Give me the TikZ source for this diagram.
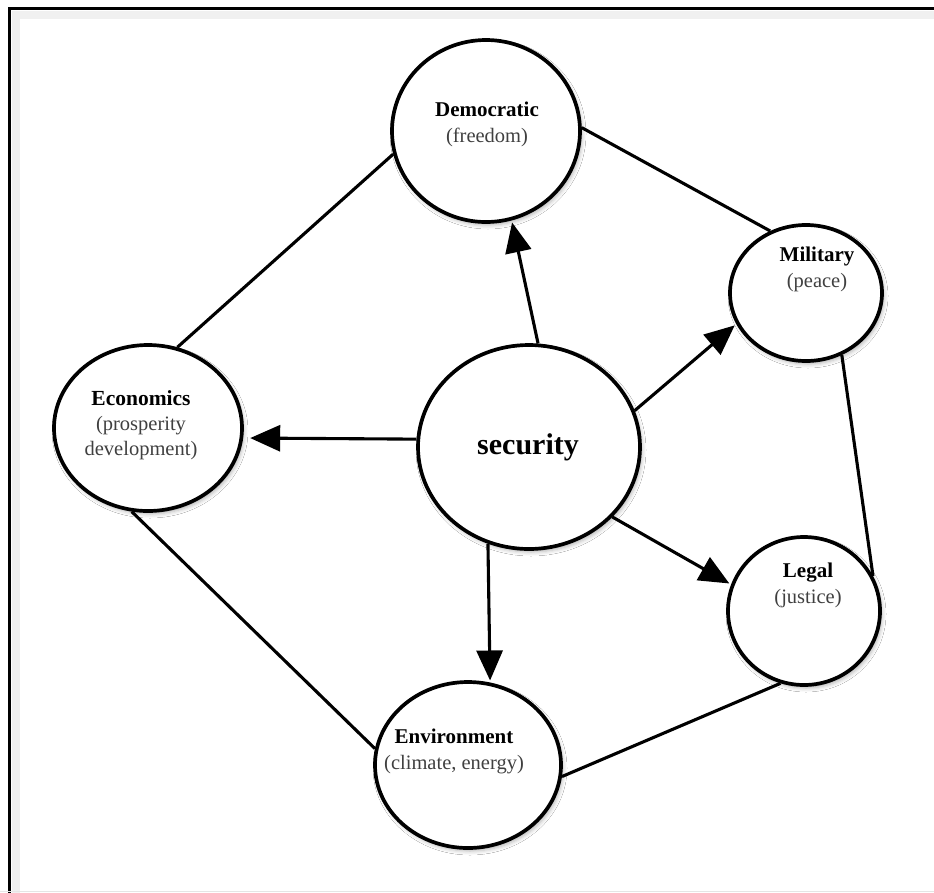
\documentclass[tikz,border=0pt]{standalone}
\usepackage{fontspec}
\setmainfont{Liberation Serif}
\usetikzlibrary{arrows.meta,shapes.geometric,shadows.blur}
\begin{document}
\begin{tikzpicture}[x=1pt,y=-1pt,
  bub/.style={ellipse, draw, line width=3.7pt, fill=white, inner sep=0pt,
    blur shadow={shadow xshift=2pt, shadow yshift=-3pt, shadow opacity=30, shadow blur radius=4pt}},
  conn/.style={line width=3.1pt},
  arr/.style={line width=3.1pt, -{Triangle[length=30pt,width=26pt]}, shorten >=2pt},
  lbl/.style={align=center, text=black!75, font=\fontsize{20.5}{26}\selectfont},
  ttl/.style={font=\bfseries\fontsize{21}{26}\selectfont, text=black}]
\fill[white] (0,0) rectangle (934,892);
\useasboundingbox (0,0) rectangle (934,892);
\begin{scope}
\clip (0,0) rectangle (934,892);
\draw[black!6, line width=8pt] (16,960) -- (16,15) -- (960,15);
\draw[line width=3pt] (9.5,960) -- (9.5,8.5) -- (960,8.5);
\draw[black!10, line width=1pt] (0,891) -- (934,891);
\end{scope}

% bubbles
\node[bub, minimum width=188pt, minimum height=182pt] (dem) at (486,131) {};
\node[bub, minimum width=152pt, minimum height=136pt] (mil) at (806,293) {};
\node[bub, minimum width=188pt, minimum height=166pt] (eco) at (148,428) {};
\node[bub, minimum width=222pt, minimum height=204pt] (sec) at (529,447) {};
\node[bub, minimum width=152pt, minimum height=148pt] (leg) at (804,611) {};
\node[bub, minimum width=186pt, minimum height=166pt] (env) at (468,765) {};

% labels
\node[lbl] (demt) at (487,124) {{\bfseries\fontsize{21}{26}\selectfont\color{black}Democratic}\\(freedom)};
\node[lbl] (milt) at (817,269) {{\bfseries\fontsize{21}{26}\selectfont\color{black}Military}\\(peace)};
\node[lbl, font=\fontsize{20.5}{25}\selectfont] (ecot) at (141,425) {{\bfseries\fontsize{21.5}{25}\selectfont\color{black}Economics}\\(prosperity\\development)};
\node[lbl] (legt) at (808,585) {{\bfseries\fontsize{21}{26}\selectfont\color{black}Legal}\\(justice)};
\node[lbl] (envt) at (454,751) {{\bfseries\fontsize{21}{26}\selectfont\color{black}Environment}\\(climate, energy)};
\node[font=\bfseries\fontsize{30}{36}\selectfont] (sect) at (528,447) {security};

% outer connectors
\draw[conn] (eco.70) -- (dem.194);
\draw[conn] (dem.2) -- (mil.120);
\draw[conn] (mil.-60) -- (leg.27);
\draw[conn] (leg.252) -- (env.-7);
\draw[conn] (env.170) -- (eco.259);

% arrows from security
\draw[arr] (sec.85.6) -- (dem.286);
\draw[arr] (sec.19.6) -- (mil.204);
\draw[arr, shorten >=7pt] (sec.176.5) -- (eco.-6.7);
\draw[arr] (sec.-40.5) -- (leg.160.6);
\draw[arr] (sec.247) -- (env.75);
\end{tikzpicture}
\end{document}
